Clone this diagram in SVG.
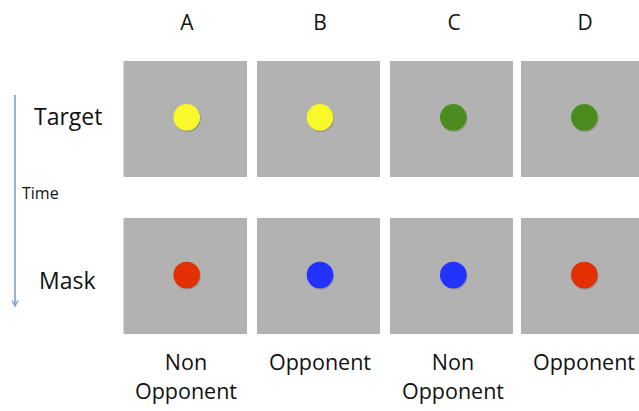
<svg xmlns="http://www.w3.org/2000/svg" width="639" height="411" viewBox="0 0 639 411">
<style>
.lbl{font-family:"Open Sans","Liberation Sans",sans-serif;fill:#111;text-anchor:middle}
.hd{font-size:21px}
.row{font-size:23px;text-anchor:start}
.bt{font-size:21.5px}
.sq{fill:#b2b2b2}
.sh{fill:#000;opacity:0.18}
</style>
<defs>
<marker id="ah" markerWidth="10" markerHeight="10" refX="7" refY="4" orient="auto" markerUnits="userSpaceOnUse">
<path d="M1.5,1 L7,4 L1.5,7" fill="none" stroke="#7f9fd0" stroke-width="1.4"/>
</marker>
</defs>
<rect width="639" height="411" fill="#fff"/>
<g id="headers">
<text class="lbl hd" x="187" y="30">A</text>
<text class="lbl hd" x="320" y="30">B</text>
<text class="lbl hd" x="454" y="30">C</text>
<text class="lbl hd" x="585" y="30">D</text>
</g>
<g id="rowlabels">
<text class="lbl row" x="34" y="125">Target</text>
<text class="lbl row" x="39" y="289">Mask</text>
<text class="lbl" x="22" y="199" style="font-size:16px;text-anchor:start">Time</text>
</g>
<g id="connectors">
<line x1="15" y1="95" x2="15" y2="306" stroke="#7f9fd0" stroke-width="1.6" marker-end="url(#ah)"/>
</g>
<g id="target-A"><rect class="sq" x="123.5" y="61" width="123.5" height="116"/><circle class="sh" cx="187.5" cy="118.5" r="13.3"/><circle cx="186.7" cy="117.3" r="13.3" fill="#f8f82a"/></g>
<g id="target-B"><rect class="sq" x="257" y="61" width="123" height="116"/><circle class="sh" cx="320.8" cy="118.5" r="13.3"/><circle cx="320" cy="117.3" r="13.3" fill="#f8f82a"/></g>
<g id="target-C"><rect class="sq" x="390" y="61" width="123" height="116"/><circle class="sh" cx="454.1" cy="118.5" r="13.3"/><circle cx="453.3" cy="117.3" r="13.3" fill="#4a8c1e"/></g>
<g id="target-D"><rect class="sq" x="521" y="61" width="118" height="116"/><circle class="sh" cx="585.1" cy="118.5" r="13.3"/><circle cx="584.3" cy="117.3" r="13.3" fill="#4a8c1e"/></g>
<g id="mask-A"><rect class="sq" x="123.5" y="218" width="123.5" height="116"/><circle class="sh" cx="187.5" cy="276.2" r="13.3"/><circle cx="186.7" cy="275" r="13.3" fill="#e23000"/></g>
<g id="mask-B"><rect class="sq" x="257" y="218" width="123" height="116"/><circle class="sh" cx="320.8" cy="276.2" r="13.3"/><circle cx="320" cy="275" r="13.3" fill="#2233ff"/></g>
<g id="mask-C"><rect class="sq" x="390" y="218" width="123" height="116"/><circle class="sh" cx="454.1" cy="276.2" r="13.3"/><circle cx="453.3" cy="275" r="13.3" fill="#2233ff"/></g>
<g id="mask-D"><rect class="sq" x="521" y="218" width="118" height="116"/><circle class="sh" cx="585.1" cy="276.2" r="13.3"/><circle cx="584.3" cy="275" r="13.3" fill="#e23000"/></g>
<g id="captions">
<text class="lbl bt" x="186" y="370">Non</text>
<text class="lbl bt" x="186" y="399">Opponent</text>
<text class="lbl bt" x="320" y="370">Opponent</text>
<text class="lbl bt" x="453" y="370">Non</text>
<text class="lbl bt" x="453" y="399">Opponent</text>
<text class="lbl bt" x="584" y="370">Opponent</text>
</g>
</svg>
